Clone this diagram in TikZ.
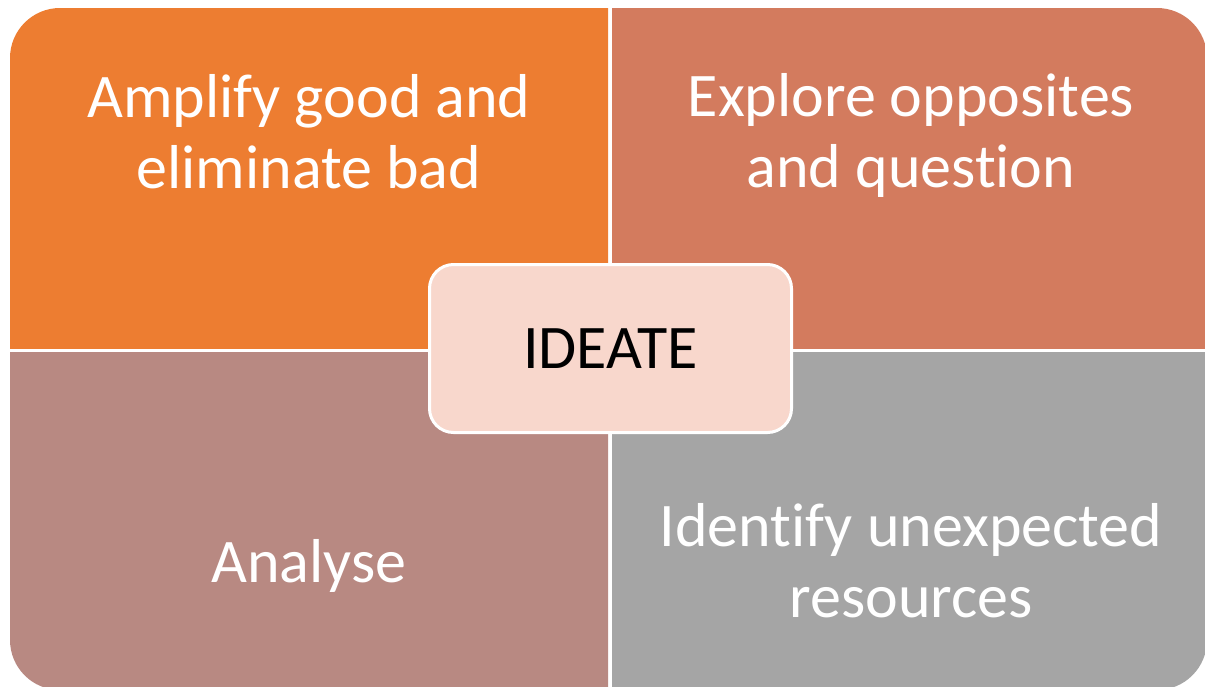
\documentclass[tikz,border=0pt]{standalone}
\usepackage{fontspec}
\setmainfont{Carlito}[Ligatures=NoCommon]
\usepackage{tikz}
\usetikzlibrary{positioning}
\definecolor{ampcol}{HTML}{ED7D31}
\definecolor{expcol}{HTML}{D37B5E}
\definecolor{anacol}{HTML}{B88982}
\definecolor{idecol}{HTML}{A5A5A5}
\definecolor{ideatecol}{HTML}{F8D7CC}
\tikzset{quadtext/.style={text=white, align=center, anchor=base, font=\fontsize{31}{35.5}\selectfont}}
\tikzset{ideatebox/.style={draw=white, line width=1.5pt, fill=ideatecol, rounded corners=12pt, minimum width=181pt, minimum height=84pt, font=\fontsize{31}{35.5}\selectfont}}

\begin{document}
\begin{tikzpicture}[x=0.5pt,y=-0.5pt]
  \useasboundingbox (0,0) rectangle (1205,686);
  \foreach \xa/\ya/\xb/\yb/\col in {10/8/608/348/ampcol, 612/8/1210/348/expcol, 10/352/608/690/anacol, 612/352/1210/690/idecol}
  {
    \begin{scope}
      \clip (\xa,\ya) rectangle (\xb,\yb);
      \fill[\col, rounded corners=25pt] (10,8) rectangle (1207,690);
    \end{scope}
  }
  % base anchor is the last line
  \node[quadtext] (amplify) at (309,188) {Amplify good and\\eliminate bad};
  \node[quadtext] (explore) at (911,187) {Explore opposites\\and question};
  \node[quadtext] (analyse) at (309,582) {Analyse};
  \node[quadtext] (identify) at (911,617) {Identify unexpected\\resources};
  \node[ideatebox] (ideate) at (610.5,348.5) {IDEATE};
\end{tikzpicture}
\end{document}
